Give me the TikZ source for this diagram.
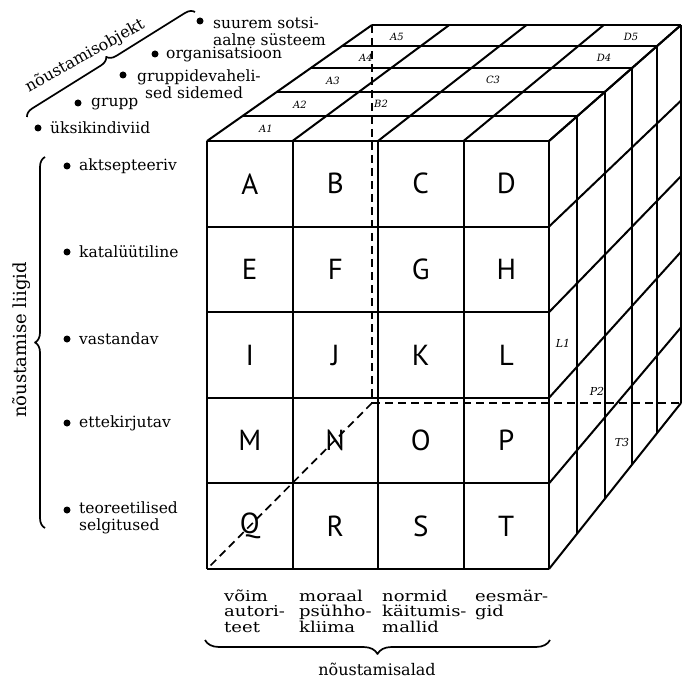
\documentclass[tikz,border=0pt]{standalone}
\usepackage{fontspec}
\setmainfont{DejaVu Serif}
\newfontfamily\cellfont{PT Sans}
\newfontfamily\widefont[FakeStretch=1.2]{DejaVu Serif}
\usetikzlibrary{decorations.pathreplacing}
\begin{document}
\begin{tikzpicture}[x=1pt,y=-1pt,line join=round,
  edge/.style={line width=2pt},
  hidden/.style={line width=1.7pt,dash pattern=on 8pt off 5pt},
  cell/.style={font=\cellfont\fontsize{29}{30}\selectfont},
  facelbl/.style={font=\itshape\fontsize{10}{12}\selectfont,inner sep=0pt},
  sidelbl/.style={font=\itshape\fontsize{11}{12}\selectfont,inner sep=0pt},
  item/.style={anchor=west,font=\fontsize{15.5}{17}\selectfont,align=left,inner sep=0pt},
  area/.style={anchor=north west,font=\widefont\fontsize{15}{15.5}\selectfont,align=left,inner sep=0pt},
  bul/.style={circle,fill,inner sep=0pt,minimum size=7pt},
  bracestyle/.style={decorate,line width=1.7pt},
  caption/.style={font=\fontsize{16}{18}\selectfont,inner sep=0pt}]
\useasboundingbox (0,0) rectangle (683,684);

% ---- top face ----
\foreach \c in {0,...,4}
  \draw[edge] ({207+85.5*\c},141) -- ({372+77.25*\c},25);
\foreach \t in {0.215,0.425,0.63,0.82,1}
  \draw[edge] ({207+165*\t},{141-116*\t}) -- ({549+132*\t},{141-116*\t});

% ---- right face ----
\foreach \t in {0.215,0.425,0.63,0.82,1}
  \draw[edge] ({549+132*\t},{141-116*\t}) -- ({549+132*\t},{569-166*\t});
\foreach \r in {0,...,5}
  \draw[edge] (549,{141+85.6*\r}) -- (681,{25+75.6*\r});

% ---- front face ----
\foreach \c in {0,...,4}
  \draw[edge] ({207+85.5*\c},141) -- ({207+85.5*\c},569);
\foreach \r in {0,...,5}
  \draw[edge] (207,{141+85.6*\r}) -- (549,{141+85.6*\r});

% ---- hidden edges ----
\coordinate (hb) at (372,403);
\coordinate (ht) at (372,25);
\coordinate (hr) at (683,403);
\coordinate (hl) at (207,569);
\draw[hidden] (ht) -- (hb);
\draw[hidden] (hb) -- (hr);
\draw[hidden] (hb) -- (hl);

% ---- cell letters ----
\foreach \l [count=\i from 0] in {A,B,C,D,E,F,G,H,I,J,K,L,M,N,O,P,Q,R,S,T}{
  \pgfmathtruncatemacro{\cc}{mod(\i,4)}
  \pgfmathtruncatemacro{\rr}{int(\i/4)}
  \node[cell] (c\l) at ({207+85.5*(\cc+0.5)},{141+85.6*(\rr+0.5)}) {\l};
}

% ---- top face labels ----
\node[facelbl] (A1) at (266,129) {A1};
\node[facelbl] (A2) at (300,105) {A2};
\node[facelbl] (B2) at (381,104) {B2};
\node[facelbl] (A3) at (333,81) {A3};
\node[facelbl] (C3) at (493,80) {C3};
\node[facelbl] (A4) at (366,58) {A4};
\node[facelbl] (D4) at (604,58) {D4};
\node[facelbl] (A5) at (397,37) {A5};
\node[facelbl] (D5) at (631,37) {D5};

% ---- right face labels ----
\node[sidelbl] (L1) at (563,343) {L1};
\node[sidelbl] (P2) at (597,391) {P2};
\node[sidelbl] (T3) at (622,442) {T3};

% ---- counselling object (diagonal) ----
\draw[bracestyle,decoration={brace,amplitude=9pt}] (27,117) -- (195,12);
\node[caption,rotate=29] (objt) at (85,56) {nõustamisobjekt};
\node[bul] (o1) at (200,21) {};
\node[item] (o1t) at (213,31) {suurem sotsi-\\aalne süsteem};
\node[bul] (o2) at (155,54) {};
\node[item] (o2t) at (166,55) {organisatsioon};
\node[bul] (o3) at (123,75) {};
\node[item] (o3t) at (137,84) {gruppidevaheli-\\\hspace*{8pt}sed sidemed};
\node[bul] (o4) at (78,103) {};
\node[item] (o4t) at (91,104) {grupp};
\node[bul] (o5) at (38,128) {};
\node[item] (o5t) at (50,128) {üksikindiviid};

% ---- counselling types ----
\draw[bracestyle,decoration={brace,amplitude=10pt}] (45,528) -- (45,157);
\node[caption,rotate=90,font=\fontsize{18}{20}\selectfont] (typt) at (22,340) {nõustamise liigid};
\node[bul] (l1) at (67,166) {};
\node[item] (l1t) at (79,166) {aktsepteeriv};
\node[bul] (l2) at (67,252) {};
\node[item] (l2t) at (79,252) {katalüütiline};
\node[bul] (l3) at (67,339) {};
\node[item] (l3t) at (79,339) {vastandav};
\node[bul] (l4) at (67,423) {};
\node[item] (l4t) at (79,423) {ettekirjutav};
\node[bul] (l5) at (67,510) {};
\node[item] (l5t) at (79,518) {teoreetilised\\selgitused};

% ---- counselling areas ----
\node[area] (a1) at (224,589) {\rule{0pt}{12pt}võim\\autori-\\teet};
\node[area] (a2) at (299,589) {\rule{0pt}{12pt}moraal\\psühho-\\kliima};
\node[area] (a3) at (382,589) {\rule{0pt}{12pt}normid\\käitumis-\\mallid};
\node[area] (a4) at (475,589) {\rule{0pt}{12pt}eesmär-\\gid};
\draw[bracestyle,decoration={brace,amplitude=14pt}] (550,640) -- (205,640);
\node[caption] (areat) at (377,669) {nõustamisalad};
\end{tikzpicture}
\end{document}
